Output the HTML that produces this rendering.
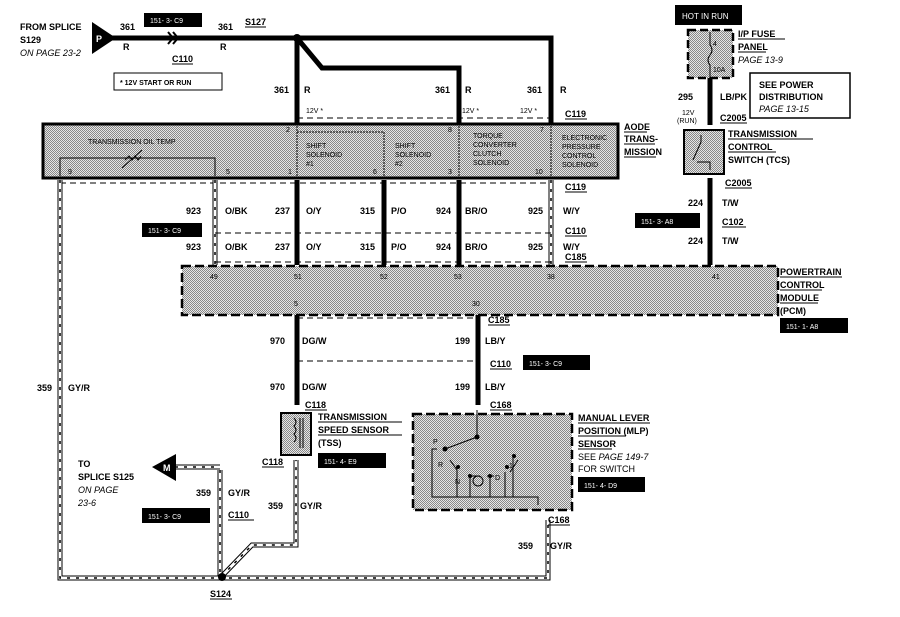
<!DOCTYPE html>
<html><head><meta charset="utf-8"><style>
html,body{margin:0;padding:0;background:#fff}
svg{display:block}
text{font-family:"Liberation Sans",Arial,sans-serif;font-weight:bold;font-size:9px;fill:#000}
.s{font-size:7px;font-weight:normal}
.i{font-style:italic;font-weight:normal}
.w{fill:#fff}
</style></head><body>
<svg width="900" height="617" viewBox="0 0 900 617" xmlns="http://www.w3.org/2000/svg">
<defs>
<pattern id="st" width="2" height="2" patternUnits="userSpaceOnUse"><rect width="2" height="2" fill="#e6e6e6"/><rect width="1" height="1" fill="#888"/><rect x="1" y="1" width="1" height="1" fill="#888"/></pattern>
</defs>
<text x="20" y="30">FROM SPLICE</text>
<text x="20" y="43">S129</text>
<text x="20" y="56" class="i" style="font-size:9px">ON PAGE 23-2</text>
<polygon points="92,22 92,54 116,38" fill="#000"/>
<text x="96" y="42" class="w">P</text>
<line x1="112" y1="38" x2="297" y2="38" stroke="#000" stroke-width="5"/>
<text x="120" y="30">361</text><text x="123" y="50">R</text>
<path d="M168,32 l5,6 l-5,6 M173,32 l5,6 l-5,6" stroke="#000" stroke-width="2" fill="none"/>
<text x="172" y="62">C110</text><line x1="172" y1="64" x2="193" y2="64" stroke="#000"/>
<rect x="144" y="13" width="58" height="14" fill="#000"/><text x="150" y="23" class="w s">151-  3-   C9</text>
<text x="218" y="30">361</text><text x="220" y="50">R</text>
<text x="245" y="25">S127</text><line x1="245" y1="27" x2="266" y2="27" stroke="#000"/>
<circle cx="297" cy="38" r="4" fill="#000"/>
<path d="M297,38 H551 V142 M297,38 V142 M297,38 L322,68 H459 V142" stroke="#000" stroke-width="5" fill="none"/>
<rect x="114" y="73" width="108" height="17" fill="#fff" stroke="#000"/>
<text x="120" y="85" class="s" style="font-weight:bold">*  12V START OR RUN</text>
<text x="274" y="93">361</text><text x="304" y="93">R</text>
<text x="435" y="93">361</text><text x="465" y="93">R</text>
<text x="527" y="93">361</text><text x="560" y="93">R</text>
<text x="306" y="113" class="s">12V *</text><text x="462" y="113" class="s">12V *</text><text x="520" y="113" class="s">12V *</text>
<line x1="297" y1="118" x2="551" y2="118" stroke="#000" stroke-dasharray="6,4"/>
<text x="565" y="117">C119</text><line x1="565" y1="119" x2="587" y2="119" stroke="#000"/>
<rect x="43" y="124" width="575" height="54" fill="url(#st)" stroke="#000" stroke-width="3"/>
<text x="88" y="144" class="s">TRANSMISSION OIL TEMP</text>
<path d="M60,176 V158 H215 V176" stroke="#000" fill="none"/>
<path d="M125,160 l4,-4 l3,4 l3,-4 l3,4 l3,-4 M122,168 L142,150" stroke="#000" fill="none"/>
<path d="M297,132 H384 V176" stroke="#000" fill="none" stroke-dasharray="2,1"/>
<path d="M297,126 V176 M459,126 V176 M551,126 V176" stroke="#000" fill="none" stroke-dasharray="2,1"/>
<text x="68" y="174" class="s">9</text><text x="226" y="174" class="s">5</text>
<text x="286" y="132" class="s">2</text><text x="288" y="174" class="s">1</text>
<text x="373" y="174" class="s">6</text><text x="448" y="132" class="s">8</text><text x="448" y="174" class="s">3</text>
<text x="540" y="132" class="s">7</text><text x="535" y="174" class="s">10</text>
<text x="306" y="148" class="s">SHIFT</text><text x="306" y="157" class="s">SOLENOID</text><text x="306" y="166" class="s">#1</text>
<text x="395" y="148" class="s">SHIFT</text><text x="395" y="157" class="s">SOLENOID</text><text x="395" y="166" class="s">#2</text>
<text x="473" y="138" class="s">TORQUE</text><text x="473" y="147" class="s">CONVERTER</text><text x="473" y="156" class="s">CLUTCH</text><text x="473" y="165" class="s">SOLENOID</text>
<text x="562" y="140" class="s">ELECTRONIC</text><text x="562" y="149" class="s">PRESSURE</text><text x="562" y="158" class="s">CONTROL</text><text x="562" y="167" class="s">SOLENOID</text>
<text x="624" y="130">AODE</text><text x="624" y="142">TRANS-</text><text x="624" y="155">MISSION</text>
<line x1="624" y1="132" x2="647" y2="132" stroke="#000"/><line x1="624" y1="144" x2="655" y2="144" stroke="#000"/><line x1="624" y1="157" x2="656" y2="157" stroke="#000"/>
<line x1="60" y1="183" x2="551" y2="183" stroke="#000" stroke-dasharray="6,4"/>
<text x="565" y="190">C119</text><line x1="565" y1="192" x2="587" y2="192" stroke="#000"/>
<g stroke="#000" stroke-width="5" fill="none">
<path d="M60,180 V578 H548 V520"/><path d="M215,180 V265"/><path d="M551,180 V265"/>
<path d="M220,470 V578"/><path d="M175,467 H220"/><path d="M222,576 L252,545 H296 V460"/>
</g>
<g stroke="#fff" stroke-width="3" fill="none">
<path d="M60,180 V578 H548 V520"/><path d="M215,180 V265"/><path d="M551,180 V265"/>
<path d="M220,470 V578"/><path d="M175,467 H220"/><path d="M222,576 L252,545 H296 V460"/>
</g>
<g stroke="#000" stroke-width="1.5" fill="none" stroke-dasharray="3,6">
<path d="M60,180 V578 H548 V520"/><path d="M215,180 V265"/><path d="M551,180 V265"/>
<path d="M220,470 V578"/><path d="M175,467 H220"/><path d="M222,576 L252,545 H296 V460"/>
</g>
<g stroke="#000" stroke-width="5" fill="none">
<path d="M297,180 V265 M384,180 V265 M459,180 V265 M297,315 V405 M478,315 V405 M710,78 V125 M710,178 V265"/>
</g>
<text x="186" y="214">923</text><text x="225" y="214">O/BK</text>
<text x="275" y="214">237</text><text x="306" y="214">O/Y</text>
<text x="360" y="214">315</text><text x="391" y="214">P/O</text>
<text x="436" y="214">924</text><text x="465" y="214">BR/O</text>
<text x="528" y="214">925</text><text x="563" y="214">W/Y</text>
<rect x="142" y="223" width="60" height="14" fill="#000"/><text x="148" y="233" class="w s">151-  3-   C9</text>
<line x1="215" y1="233" x2="551" y2="233" stroke="#000" stroke-dasharray="6,4"/>
<text x="565" y="234">C110</text><line x1="565" y1="236" x2="587" y2="236" stroke="#000"/>
<text x="186" y="250">923</text><text x="225" y="250">O/BK</text>
<text x="275" y="250">237</text><text x="306" y="250">O/Y</text>
<text x="360" y="250">315</text><text x="391" y="250">P/O</text>
<text x="436" y="250">924</text><text x="465" y="250">BR/O</text>
<text x="528" y="250">925</text><text x="563" y="250">W/Y</text>
<text x="565" y="260">C185</text><line x1="565" y1="262" x2="587" y2="262" stroke="#000"/>
<line x1="215" y1="262" x2="551" y2="262" stroke="#000" stroke-dasharray="6,4"/>
<rect x="182" y="266" width="596" height="49" fill="url(#st)" stroke="#000" stroke-width="2.5" stroke-dasharray="9,4"/>
<text x="210" y="279" class="s">49</text><text x="294" y="279" class="s">51</text><text x="380" y="279" class="s">52</text>
<text x="454" y="279" class="s">53</text><text x="547" y="279" class="s">38</text><text x="712" y="279" class="s">41</text>
<text x="294" y="306" class="s">5</text><text x="472" y="306" class="s">30</text>
<text x="780" y="275">POWERTRAIN</text><text x="780" y="288">CONTROL</text><text x="780" y="301">MODULE</text><text x="780" y="314">(PCM)</text>
<line x1="780" y1="277" x2="842" y2="277" stroke="#000"/><line x1="780" y1="290" x2="822" y2="290" stroke="#000"/><line x1="780" y1="303" x2="818" y2="303" stroke="#000"/>
<rect x="780" y="318" width="68" height="15" fill="#000"/><text x="786" y="329" class="w s">151-   1-    A8</text>
<line x1="297" y1="318" x2="478" y2="318" stroke="#000" stroke-dasharray="6,4"/>
<text x="488" y="323">C185</text><line x1="488" y1="325" x2="510" y2="325" stroke="#000"/>
<text x="270" y="344">970</text><text x="302" y="344">DG/W</text><text x="455" y="344">199</text><text x="485" y="344">LB/Y</text>
<line x1="297" y1="361" x2="478" y2="361" stroke="#000" stroke-dasharray="6,4"/>
<text x="490" y="367">C110</text><line x1="490" y1="369" x2="512" y2="369" stroke="#000"/>
<rect x="523" y="355" width="67" height="15" fill="#000"/><text x="529" y="366" class="w s">151-  3-    C9</text>
<text x="270" y="390">970</text><text x="302" y="390">DG/W</text><text x="455" y="390">199</text><text x="485" y="390">LB/Y</text>
<text x="305" y="408">C118</text><line x1="305" y1="410" x2="327" y2="410" stroke="#000"/>
<text x="490" y="408">C168</text><line x1="490" y1="410" x2="512" y2="410" stroke="#000"/>
<rect x="281" y="413" width="30" height="42" fill="url(#st)" stroke="#000" stroke-width="2"/>
<path d="M294,418 q4,4 0,8 q4,4 0,8 q4,4 0,8 M300,418 V448 M303,418 V448" stroke="#000" fill="none"/>
<text x="318" y="420">TRANSMISSION</text><text x="318" y="433">SPEED SENSOR</text><text x="318" y="446">(TSS)</text>
<line x1="318" y1="422" x2="402" y2="422" stroke="#000"/><line x1="318" y1="435" x2="402" y2="435" stroke="#000"/>
<rect x="318" y="453" width="68" height="15" fill="#000"/><text x="324" y="464" class="w s">151-  4-    E9</text>
<text x="262" y="465">C118</text><line x1="262" y1="467" x2="284" y2="467" stroke="#000"/>
<rect x="413" y="414" width="159" height="96" fill="url(#st)" stroke="#000" stroke-width="2.5" stroke-dasharray="9,4"/>
<path d="M477,410 V437 L445,449 M437,449 H432 V497 H538 V505 M450,460 L457,470 M457,470 V497 M470,476 V497 M470,476 H480 M487,476 H494 M490,476 V497 M510,472 L518,460 M505,472 V497 M513,457 V497" stroke="#000" fill="none"/>
<circle cx="477" cy="437" r="2.5"/><circle cx="445" cy="449" r="2.5"/><circle cx="458" cy="467" r="2"/><circle cx="470" cy="476" r="2"/><circle cx="490" cy="476" r="2"/><circle cx="507" cy="467" r="2"/><circle cx="514" cy="456" r="2"/>
<circle cx="478" cy="481" r="5" fill="none" stroke="#000"/>
<text x="433" y="444" class="s">P</text><text x="438" y="467" class="s">R</text><text x="455" y="484" class="s">N</text><text x="495" y="480" class="s">D</text><text x="509" y="468" class="s">1</text>
<text x="578" y="421">MANUAL LEVER</text><text x="578" y="434">POSITION (MLP)</text><text x="578" y="447">SENSOR</text>
<line x1="578" y1="423" x2="650" y2="423" stroke="#000"/><line x1="578" y1="436" x2="626" y2="436" stroke="#000"/><line x1="578" y1="449" x2="612" y2="449" stroke="#000"/>
<text x="578" y="460" style="font-weight:normal">SEE <tspan font-style="italic">PAGE 149-7</tspan></text><text x="578" y="472" style="font-weight:normal">FOR SWITCH</text>
<rect x="578" y="477" width="67" height="15" fill="#000"/><text x="584" y="488" class="w s">151-  4-    D9</text>
<text x="548" y="523">C168</text><line x1="548" y1="525" x2="570" y2="525" stroke="#000"/>
<text x="518" y="549">359</text><text x="550" y="549">GY/R</text>
<text x="37" y="391">359</text><text x="68" y="391">GY/R</text>
<polygon points="152,467 176,454 176,481" fill="#000"/><text x="163" y="471" class="w">M</text>
<text x="78" y="467">TO</text><text x="78" y="480">SPLICE S125</text><text x="78" y="493" class="i">ON PAGE</text><text x="78" y="506" class="i">23-6</text>
<text x="196" y="496">359</text><text x="228" y="496">GY/R</text>
<rect x="142" y="508" width="68" height="15" fill="#000"/><text x="148" y="519" class="w s">151-  3-    C9</text>
<text x="228" y="518">C110</text><line x1="228" y1="520" x2="254" y2="520" stroke="#000"/>
<text x="268" y="509">359</text><text x="300" y="509">GY/R</text>
<circle cx="222" cy="577" r="4" fill="#000"/>
<text x="210" y="597">S124</text><line x1="210" y1="599" x2="232" y2="599" stroke="#000"/>
<rect x="675" y="5" width="67" height="20" fill="#000"/><text x="682" y="19" class="w s" style="font-size:8px">HOT IN RUN</text>
<rect x="688" y="30" width="45" height="48" fill="url(#st)" stroke="#000" stroke-width="2.5" stroke-dasharray="8,4"/>
<path d="M710,32 V45 q4,5 0,10 q-4,5 0,10 V78" stroke="#000" fill="none"/>
<text x="713" y="46" class="s">4</text><text x="713" y="72" class="s">10A</text>
<text x="738" y="37">I/P FUSE</text><text x="738" y="50">PANEL</text><text x="738" y="63" class="i">PAGE 13-9</text>
<line x1="738" y1="39" x2="785" y2="39" stroke="#000"/><line x1="738" y1="52" x2="766" y2="52" stroke="#000"/>
<rect x="750" y="73" width="100" height="45" fill="#fff" stroke="#000" stroke-width="1.5"/>
<text x="759" y="88">SEE POWER</text><text x="759" y="100">DISTRIBUTION</text><text x="759" y="112" class="i">PAGE 13-15</text>
<text x="678" y="100">295</text><text x="720" y="100">LB/PK</text>
<text x="682" y="115" class="s">12V</text><text x="677" y="123" class="s">(RUN)</text>
<text x="720" y="121">C2005</text><line x1="720" y1="123" x2="747" y2="123" stroke="#000"/>
<rect x="684" y="130" width="40" height="44" fill="url(#st)" stroke="#000" stroke-width="2"/>
<path d="M701,135 V142 L693,160 M697,162 H710 V170" stroke="#000" fill="none"/>
<text x="728" y="137">TRANSMISSION</text><text x="728" y="150">CONTROL</text><text x="728" y="163">SWITCH (TCS)</text>
<line x1="728" y1="139" x2="813" y2="139" stroke="#000"/><line x1="728" y1="152" x2="776" y2="152" stroke="#000"/>
<text x="725" y="186">C2005</text><line x1="725" y1="188" x2="752" y2="188" stroke="#000"/>
<text x="688" y="206">224</text><text x="722" y="206">T/W</text>
<rect x="635" y="213" width="65" height="15" fill="#000"/><text x="641" y="224" class="w s">151-  3-    A8</text>
<text x="722" y="225">C102</text><line x1="722" y1="227" x2="746" y2="227" stroke="#000"/>
<text x="688" y="244">224</text><text x="722" y="244">T/W</text>
</svg>
</body></html>
